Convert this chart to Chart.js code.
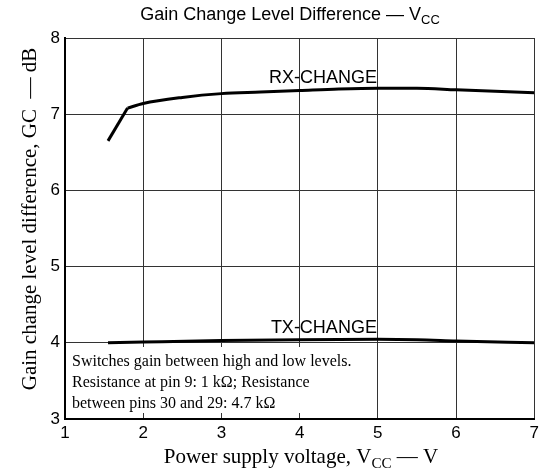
<!DOCTYPE html>
<html lang="en">
<head>
  <meta charset="UTF-8">
  <title>Gain Change Level Difference</title>
  <script src="https://cdn.jsdelivr.net/npm/chart.js"></script>
  <style>
    body { margin: 0; background: #fff; }
  </style>
</head>
<body>
  <canvas id="gcChart" width="543" height="475"></canvas>

  <script>
    // values
    const rxVolts = [1.55, 1.8, 2, 2.5, 3, 3.5, 4, 4.5, 5, 5.5, 6, 6.5, 7];
    const rxGain  = [6.65, 7.08, 7.14, 7.22, 7.27, 7.29, 7.31, 7.33, 7.34, 7.34, 7.32, 7.30, 7.28];
    const txVolts = [1.55, 2, 3, 4, 5, 5.5, 6, 7];
    const txGain  = [4.0, 4.01, 4.03, 4.04, 4.045, 4.04, 4.025, 4.0];
    const xTicks = [1, 2, 3, 4, 5, 6, 7];
    const yTicks = [3, 4, 5, 6, 7, 8];
    const noteLines = [
      "Switches gain between high and low levels.",
      "Resistance at pin 9: 1 k\u03A9; Resistance",
      "between pins 30 and 29: 4.7 k\u03A9"
    ];

    const sans = "'Liberation Sans', Arial, sans-serif";
    const serif = "'Liberation Serif', 'Times New Roman', serif";

    function toPoints(xs, ys) {
      return xs.map((x, i) => ({ x: x, y: ys[i] }));
    }

    // draws text made of [text, isSub] parts, centred on cx
    function drawParts(ctx, parts, cx, y, size, family) {
      let total = 0;
      parts.forEach(p => {
        ctx.font = (p[1] ? size * 0.72 : size) + "px " + family;
        total += ctx.measureText(p[0]).width;
      });
      let x = cx - total / 2;
      ctx.textAlign = "left";
      ctx.textBaseline = "alphabetic";
      parts.forEach(p => {
        ctx.font = (p[1] ? size * 0.72 : size) + "px " + family;
        ctx.fillText(p[0], x, p[1] ? y + size * 0.22 : y);
        x += ctx.measureText(p[0]).width;
      });
    }

    const decorations = {
      id: "decorations",
      beforeDatasetsDraw(chart) {
        const ctx = chart.ctx;
        const area = chart.chartArea;
        ctx.save();
        // white note box over the lower-left grid
        ctx.fillStyle = "#fff";
        ctx.fillRect(area.left + 1, 347, 368 - area.left, area.bottom - 6 - 347);
        ctx.fillStyle = "#000";
        ctx.font = "16px " + serif;
        ctx.textAlign = "left";
        ctx.textBaseline = "alphabetic";
        noteLines.forEach((t, i) => ctx.fillText(t, 72, 366 + i * 21));
        ctx.restore();
      },
      afterDraw(chart) {
        const ctx = chart.ctx;
        const xs = chart.scales.x, ys = chart.scales.y;
        ctx.save();
        ctx.fillStyle = "#000";

        drawParts(ctx, [["Gain Change Level Difference \u2014 V", false], ["CC", true]], 290, 20, 18, sans);
        drawParts(ctx, [["Power supply voltage, V", false], ["CC", true], [" \u2014 V", false]], 301, 463, 21, serif);

        ctx.save();
        ctx.translate(29, 219);
        ctx.rotate(-Math.PI / 2);
        drawParts(ctx, [["Gain change level difference, GC  \u2014 dB", false]], 0, 7, 21, serif);
        ctx.restore();

        ctx.font = "18px " + sans;
        ctx.textAlign = "center";
        ctx.textBaseline = "middle";
        ctx.fillText("RX-CHANGE", xs.getPixelForValue(4.3), ys.getPixelForValue(7.48));
        ctx.fillText("TX-CHANGE", xs.getPixelForValue(4.31), ys.getPixelForValue(4.2));
        ctx.restore();
      }
    };

    const lineStyle = {
      borderColor: "#000",
      borderWidth: 3,
      pointRadius: 0,
      fill: false,
      cubicInterpolationMode: "monotone"
    };

    // RX has a sharp knee at 1.8 V, so the steep start is its own straight piece
    const rxPoints = toPoints(rxVolts, rxGain);

    new Chart(document.getElementById("gcChart").getContext("2d"), {
      type: "line",
      data: {
        datasets: [
          Object.assign({ label: "RX-CHANGE", data: rxPoints.slice(0, 2) }, lineStyle),
          Object.assign({ label: "RX-CHANGE", data: rxPoints.slice(1) }, lineStyle),
          Object.assign({ label: "TX-CHANGE", data: toPoints(txVolts, txGain) }, lineStyle)
        ]
      },
      options: {
        responsive: false,
        animation: false,
        devicePixelRatio: 1,
        layout: { padding: { top: 38, right: 7, left: 0, bottom: 0 } },
        plugins: { legend: { display: false }, tooltip: { enabled: false } },
        scales: {
          x: {
            type: "linear",
            min: 1,
            max: 7,
            afterBuildTicks: s => { s.ticks = xTicks.map(v => ({ value: v })); },
            afterFit: s => { s.height = 56; },
            ticks: { color: "#000", font: { family: sans, size: 17 }, padding: 4 },
            grid: { color: "#333", lineWidth: 1, drawTicks: false },
            border: { color: "#000", width: 2 }
          },
          y: {
            min: 3,
            max: 8,
            afterBuildTicks: s => { s.ticks = yTicks.map(v => ({ value: v })); },
            afterFit: s => { s.width = 65; },
            ticks: { color: "#000", font: { family: sans, size: 17 }, padding: 5 },
            grid: { color: "#333", lineWidth: 1, drawTicks: false },
            border: { color: "#000", width: 2 }
          }
        }
      },
      plugins: [decorations]
    });
  </script>
</body>
</html>
